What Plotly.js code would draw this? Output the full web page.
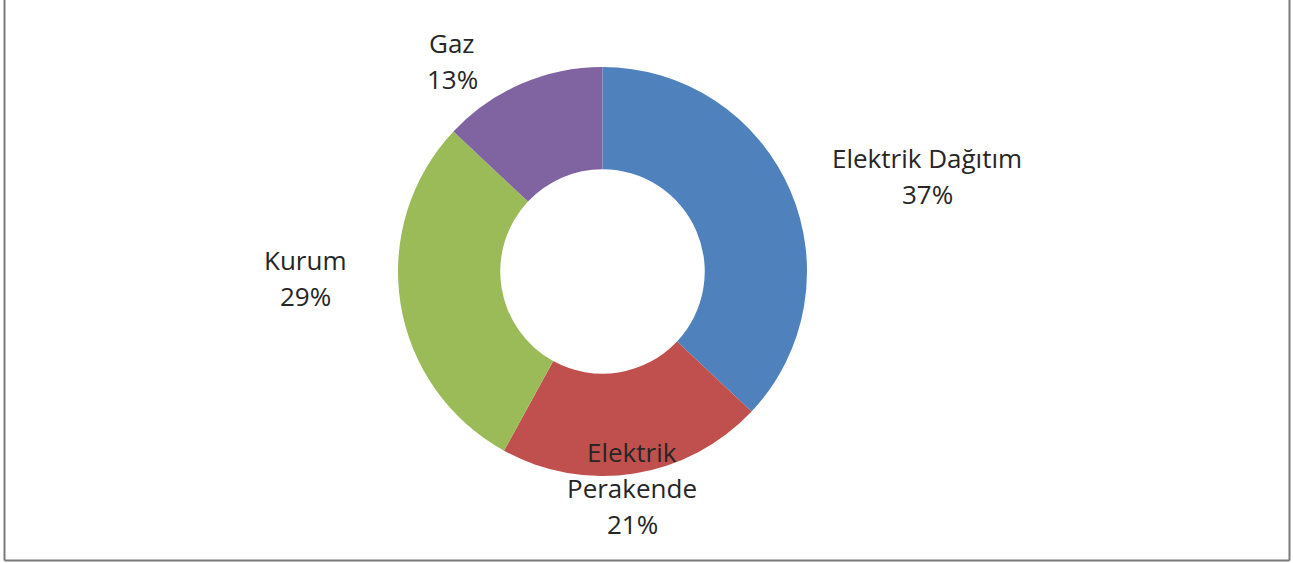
<!DOCTYPE html>
<html>
<head>
<meta charset="utf-8">
<script src="https://cdn.plot.ly/plotly-3.0.1.min.js"></script>
<style>
html, body { margin: 0; padding: 0; background: #fff; }
#chart { width: 1293px; height: 563px; }
</style>
</head>
<body>
<div id="chart"></div>
<script>
var categories = ["Elektrik Dağıtım", "Elektrik Perakende", "Kurum", "Gaz"];
var labelLines = [["Elektrik Dağıtım"], ["Elektrik", "Perakende"], ["Kurum"], ["Gaz"]];
var values = [37, 21, 29, 13];
var colors = ["#4F81BD", "#C0504D", "#9BBB59", "#8064A2"];

var W = 1293, H = 563;
// label anchor: center x and y of the last (percent) line, in pixels
var labelPos = [[927, 194], [632, 524], [305, 296], [452, 79]];
var lineGap = 36;

var total = values.reduce(function (a, b) { return a + b; }, 0);
var annotations = [];
categories.forEach(function (c, i) {
  var pct = Math.round(values[i] / total * 100) + "%";
  var lines = labelLines[i].concat([pct]);
  var n = lines.length;
  lines.forEach(function (t, k) {
    var py = labelPos[i][1] - (n - 1 - k) * lineGap;
    annotations.push({
      text: t, showarrow: false, xref: "paper", yref: "paper",
      x: labelPos[i][0] / W, y: 1 - py / H,
      xanchor: "center", yanchor: "middle",
      font: { family: "Open Sans", size: 26, color: "#262626" }
    });
  });
});

var cx = 602.5, cy = 271.5, r = 204.5;
var data = [{
  type: "pie",
  labels: categories,
  values: values,
  hole: 0.5,
  sort: false,
  direction: "clockwise",
  rotation: 0,
  textinfo: "none",
  hoverinfo: "label+percent",
  marker: { colors: colors, line: { width: 0 } },
  domain: { x: [(cx - r) / W, (cx + r) / W], y: [1 - (cy + r) / H, 1 - (cy - r) / H] }
}];

var layout = {
  width: W, height: H,
  margin: { l: 0, r: 0, t: 0, b: 0 },
  showlegend: false,
  paper_bgcolor: "#fff",
  annotations: annotations,
  font: { family: "Open Sans", size: 26, color: "#262626" },
  shapes: [
    { type: "line", xref: "paper", yref: "paper", x0: 4.5 / W, x1: 4.5 / W, y0: 1, y1: 1 - 560.5 / H, line: { color: "#7a7a7a", width: 2 } },
    { type: "line", xref: "paper", yref: "paper", x0: 4.5 / W, x1: 1289.5 / W, y0: 1 - 560.5 / H, y1: 1 - 560.5 / H, line: { color: "#7a7a7a", width: 2 } },
    { type: "line", xref: "paper", yref: "paper", x0: 1289.5 / W, x1: 1289.5 / W, y0: 1, y1: 1 - 560.5 / H, line: { color: "#7a7a7a", width: 2 } }
  ]
};

Plotly.newPlot("chart", data, layout, { displayModeBar: false, staticPlot: true });
</script>
</body>
</html>
